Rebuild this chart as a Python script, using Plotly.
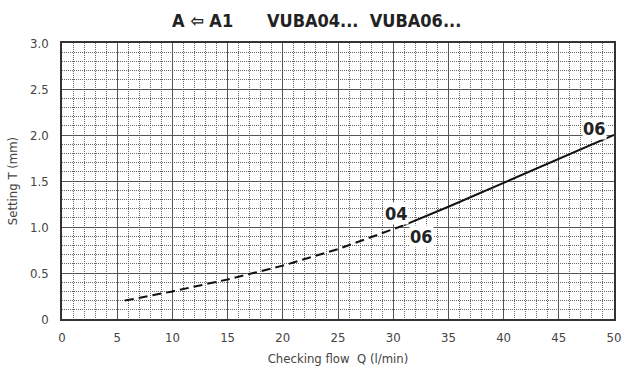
import plotly.graph_objects as go

# Setting T versus checking flow Q, VUBA04 / VUBA06
q_dashed = [5.7, 10, 15, 20, 25, 30, 31]
t_dashed = [0.20, 0.30, 0.43, 0.58, 0.76, 0.97, 1.02]
q_solid = [31, 35, 40, 45, 50]
t_solid = [1.02, 1.22, 1.48, 1.74, 2.00]

x_ticks = [0, 5, 10, 15, 20, 25, 30, 35, 40, 45, 50]
y_ticks = [0, 0.5, 1.0, 1.5, 2.0, 2.5, 3.0]
y_tick_text = ["0", "0.5", "1.0", "1.5", "2.0", "2.5", "3.0"]

# curve labels: (text, q, T)
curve_labels = [("04", 30.3, 1.15), ("06", 32.6, 0.90), ("06", 48.2, 2.07)]

COND = "DejaVu Sans Condensed, Liberation Sans Narrow, sans-serif"

fig = go.Figure()
fig.add_trace(go.Scatter(x=q_dashed, y=t_dashed, mode="lines",
                         line=dict(color="#111", width=2, dash="9px,5px"),
                         showlegend=False, hoverinfo="skip"))
fig.add_trace(go.Scatter(x=q_solid, y=t_solid, mode="lines",
                         line=dict(color="#111", width=2),
                         showlegend=False, hoverinfo="skip"))

for text, qx, ty in curve_labels:
    fig.add_annotation(x=qx, y=ty, text=f"<b>{text}</b>", showarrow=False,
                       font=dict(family=COND, size=18, color="#222"),
                       bgcolor="white", borderpad=0)

fig.add_annotation(xref="paper", yref="paper", x=(170 - 62) / 552, y=1 + (43 - 20) / 276,
                   xanchor="left", yanchor="middle", showarrow=False,
                   text="<b>A \u21e6 A1      VUBA04...  VUBA06...</b>",
                   font=dict(family=COND, size=18, color="#222"))

axis_common = dict(
    showline=True, linecolor="#333", linewidth=1.5, mirror=True,
    showgrid=True, gridcolor="#555", gridwidth=1.3,
    zeroline=False, ticks="", automargin=False, ticklabeloverflow="allow",
    tickfont=dict(family=COND, size=13, color="#444"),
    minor=dict(showgrid=True, gridcolor="#666", gridwidth=1, griddash="1px,1px"),
)

fig.update_xaxes(range=[0, 50], tickvals=x_ticks, ticklabelstandoff=6,
                 title=dict(text="Checking flow  Q (l/min)", standoff=10,
                            font=dict(family=COND, size=13, color="#444")),
                 **{**axis_common, "minor": dict(axis_common["minor"], dtick=1)})
fig.update_yaxes(range=[0, 3], tickvals=y_ticks, ticktext=y_tick_text, ticklabelstandoff=9,
                 title=dict(text="Setting T (mm)", standoff=10,
                            font=dict(family=COND, size=13, color="#444")),
                 **{**axis_common, "minor": dict(axis_common["minor"], dtick=0.1)})

fig.update_layout(width=622, height=367, margin=dict(l=62, r=8, t=43, b=48),
                  plot_bgcolor="white", paper_bgcolor="white")

fig.write_html("out.html")
